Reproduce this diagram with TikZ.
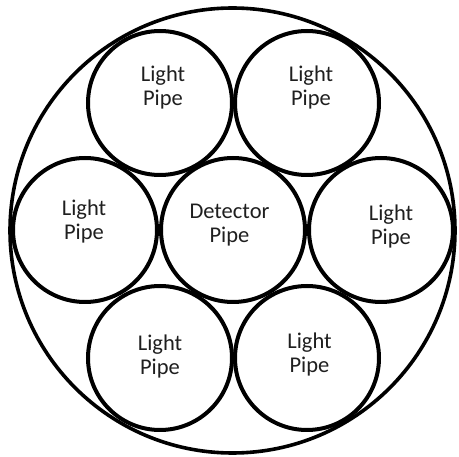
\documentclass[tikz,border=0pt]{standalone}
\usepackage{fontspec}
\setmainfont{Carlito}
\begin{document}
\begin{tikzpicture}[x=1pt,y=-1pt,
  pipe/.style={draw=black,line width=4pt},
  outer/.style={draw=black,line width=3.6pt},
  lbl/.style={align=center,inner sep=0pt,font=\fontsize{22.5}{24}\selectfont,text=black!88}]
\useasboundingbox (0,0) rectangle (459,457);
\draw[outer] (232.5,230.5) circle[radius=222.5];
\coordinate (C) at (233,230);
\draw[pipe] (C) circle[radius=72];
\draw[pipe] (160,103) circle[radius=72];
\draw[pipe] (307,103) circle[radius=72];
\draw[pipe] (85,230) circle[radius=72];
\draw[pipe] (381,230) circle[radius=72];
\draw[pipe] (160,358) circle[radius=72];
\draw[pipe] (307,358) circle[radius=72];
\node[lbl] (tl) at (163,88) {Light\\Pipe};
\node[lbl] (tr) at (311,88) {Light\\Pipe};
\node[lbl] (ml) at (84,221.5) {Light\\Pipe};
\node[lbl] (det) at (229.5,225.5) {Detector\\Pipe};
\node[lbl] (mr) at (391,227) {Light\\Pipe};
\node[lbl] (bl) at (160,356.5) {Light\\Pipe};
\node[lbl] (br) at (309.5,355) {Light\\Pipe};
\end{tikzpicture}
\end{document}
